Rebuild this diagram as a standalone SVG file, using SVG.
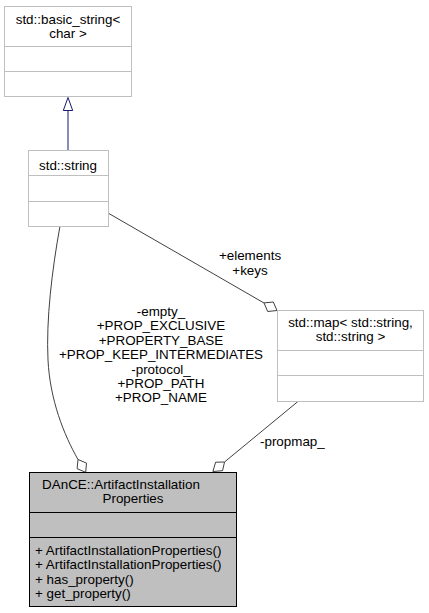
<svg xmlns="http://www.w3.org/2000/svg" width="429" height="613" viewBox="0 0 429 613">
<style>
text{font-family:"Liberation Sans",Arial,sans-serif;font-size:13.4px;fill:#000}
.c{text-anchor:middle}
.box{fill:#fff;stroke:#bfbfbf;stroke-width:1}
.main{fill:#bfbfbf;stroke:#000;stroke-width:1}
.edge{fill:none;stroke:#404040;stroke-width:1}
.dia{fill:#fff;stroke:#404040;stroke-width:1}
.inh{fill:none;stroke:#191970;stroke-width:1}
.inhd{fill:#fff;stroke:#191970;stroke-width:1}
</style>
<rect width="429" height="613" fill="#fff"/>
<g id="connectors">
<line class="inh" x1="68" y1="150" x2="68" y2="110.5"/>
<polygon class="inhd" points="68,97.5 63.3,110.5 72.7,110.5"/>
<line class="edge" x1="108" y1="213" x2="264" y2="303"/>
<polygon class="dia" points="264,302.9 273.3,302 277,310.5 267.7,311.5"/>
<path class="edge" d="M60,226 C52,270 46,320 48,360 C50,400 64,435 78,459.5"/>
<polygon class="dia" points="78,459.5 86.5,463.1 85.7,472.3 77.1,468.7"/>
<line class="edge" x1="297.7" y1="401.7" x2="224.5" y2="462"/>
<polygon class="dia" points="224.5,462 222.6,470.7 212.9,471.5 215.6,462.2"/>
<text class="c" x="250" y="260">+elements</text>
<text class="c" x="250" y="275">+keys</text>
<text class="c" x="161" y="316">-empty_</text>
<text class="c" x="161" y="330.4">+PROP_EXCLUSIVE</text>
<text class="c" x="161" y="344.8">+PROPERTY_BASE</text>
<text class="c" x="161" y="359.2">+PROP_KEEP_INTERMEDIATES</text>
<text class="c" x="161" y="373.6">-protocol_</text>
<text class="c" x="161" y="388">+PROP_PATH</text>
<text class="c" x="161" y="402.4">+PROP_NAME</text>
<text x="260" y="446">-propmap_</text>
</g>
<g id="basic_string">
<rect class="box" x="4.5" y="6.5" width="127" height="90"/>
<line class="box" x1="4.5" y1="46.5" x2="131.5" y2="46.5"/>
<line class="box" x1="4.5" y1="71.5" x2="131.5" y2="71.5"/>
<text class="c" x="68" y="24">std::basic_string&lt;</text>
<text class="c" x="68" y="38">char &gt;</text>
</g>
<g id="string">
<rect class="box" x="28.5" y="150.5" width="80" height="76"/>
<line class="box" x1="28.5" y1="175.5" x2="108.5" y2="175.5"/>
<line class="box" x1="28.5" y1="201.5" x2="108.5" y2="201.5"/>
<text class="c" x="68" y="170">std::string</text>
</g>
<g id="map">
<rect class="box" x="277.5" y="310.5" width="146" height="91"/>
<line class="box" x1="277.5" y1="350.5" x2="423.5" y2="350.5"/>
<line class="box" x1="277.5" y1="375.5" x2="423.5" y2="375.5"/>
<text class="c" x="350.5" y="327">std::map&lt; std::string,</text>
<text class="c" x="350.5" y="341">std::string &gt;</text>
</g>
<g id="ArtifactInstallationProperties">
<rect class="main" x="29.5" y="472.5" width="207" height="134"/>
<line class="main" x1="29.5" y1="512.5" x2="236.5" y2="512.5"/>
<line class="main" x1="29.5" y1="537.5" x2="236.5" y2="537.5"/>
<text class="c" x="121" y="489">DAnCE::ArtifactInstallation</text>
<text class="c" x="133" y="503">Properties</text>
<text x="35" y="554.5">+ ArtifactInstallationProperties()</text>
<text x="35" y="569">+ ArtifactInstallationProperties()</text>
<text x="35" y="583.5">+ has_property()</text>
<text x="35" y="598">+ get_property()</text>
</g>
</svg>
